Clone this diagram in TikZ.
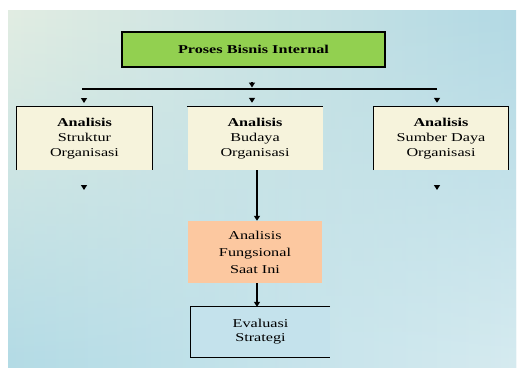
\documentclass[tikz,border=0pt]{standalone}
\usepackage{fontspec}
\setmainfont{Liberation Serif}
\newfontfamily\boxfont[FakeStretch=1.35]{Liberation Serif}
\usetikzlibrary{arrows.meta,fadings}
\definecolor{titlegreen}{HTML}{92D050}
\definecolor{cream}{HTML}{F6F3DC}
\definecolor{peach}{HTML}{FCC8A0}
\definecolor{paleblue}{HTML}{C4E2EC}
\definecolor{topleft}{HTML}{E2EDE2}
\definecolor{topmid}{HTML}{ECF5F3}
\definecolor{topright}{HTML}{B2D9E4}
\definecolor{botleft}{HTML}{B3DBE6}
\definecolor{botmid}{HTML}{D0E9EF}
\definecolor{botright}{HTML}{D6EBF0}
\begin{document}
\begin{tikzpicture}[x=1pt,y=-1pt,
  box/.style={inner sep=0pt, align=center,
    font=\boxfont\fontsize{12}{15}\selectfont},
  edge/.style={line width=1.3pt},
  tip/.style={-{Triangle[length=5pt,width=6pt]}, line width=1.3pt},
]
\useasboundingbox (0,0) rectangle (519,370);
% background panel: two horizontal gradients blended top to bottom
\shade[left color=topleft, middle color=topmid, right color=topright] (8,10) rectangle (516,367);
\shade[left color=botleft, middle color=botmid, right color=botright, path fading=north]
  (8,10) rectangle (516,367);

% title
\node[box, fill=titlegreen, minimum width=263pt, minimum height=35pt] (proses) at (253.5,49.5)
  {\textbf{Proses Bisnis Internal}};
\draw[line width=1.6pt] (proses.south west) rectangle (proses.north east);

% second row
\node[box, fill=cream, minimum width=135pt, minimum height=63pt] (struktur) at (84.5,138.5)
  {\textbf{Analisis}\\Struktur\\Organisasi};
\node[box, fill=cream, minimum width=135pt, minimum height=63pt] (budaya) at (255,138.5)
  {\textbf{Analisis}\\Budaya\\Organisasi};
\node[box, fill=cream, minimum width=134pt, minimum height=63pt] (sumber) at (441,138.5)
  {\textbf{Analisis}\\Sumber Daya\\Organisasi};
\draw[edge] (struktur.south west) |- (struktur.north east) -- (struktur.south east);
\draw[edge] (budaya.north west) -- (budaya.north east);
\draw[edge] (sumber.south west) |- (sumber.north east) -- (sumber.south east);

% third and fourth rows
\node[box, fill=peach, minimum width=134pt, minimum height=62pt,
  font=\boxfont\fontsize{12}{17}\selectfont] (fungsi) at (255,252)
  {Analisis\\Fungsional\\Saat Ini};
\node[box, fill=paleblue, minimum width=139pt, minimum height=50pt,
  font=\boxfont\fontsize{12}{14}\selectfont] (evaluasi) at (260.5,332)
  {Evaluasi\\Strategi};
\draw[edge] (evaluasi.north east) -| (evaluasi.south west) -- (evaluasi.south east);

% distribution bar
\coordinate (busL) at (82,89);
\coordinate (busR) at (437,89);
\coordinate (busM) at (252,89);
\draw[edge] (busL) -- (busR);
\draw[tip, shorten <=15pt, shorten >=1.5pt] (proses.south -| busM) -- (busM);
\draw[tip, shorten <=9pt, shorten >=4pt] (84,89) -- (84,107);
\draw[tip, shorten <=9pt, shorten >=4pt] (busM) -- (busM |- budaya.north);
\draw[tip, shorten <=9pt, shorten >=4pt] (busR) -- (busR |- sumber.north);

% dangling markers below the side boxes
\coordinate (strukturEnd) at (84,190);
\coordinate (sumberEnd) at (437,190);
\draw[tip, shorten <=15pt] (struktur.south -| strukturEnd) -- (strukturEnd);
\draw[tip, shorten <=15pt] (sumber.south -| sumberEnd) -- (sumberEnd);

% main flow
\draw[tip] ([xshift=2pt]budaya.south) -- ([xshift=2pt]fungsi.north);
\draw[tip] ([xshift=2pt]fungsi.south) -- ([xshift=2pt]fungsi.south |- evaluasi.north);
\end{tikzpicture}
\end{document}
